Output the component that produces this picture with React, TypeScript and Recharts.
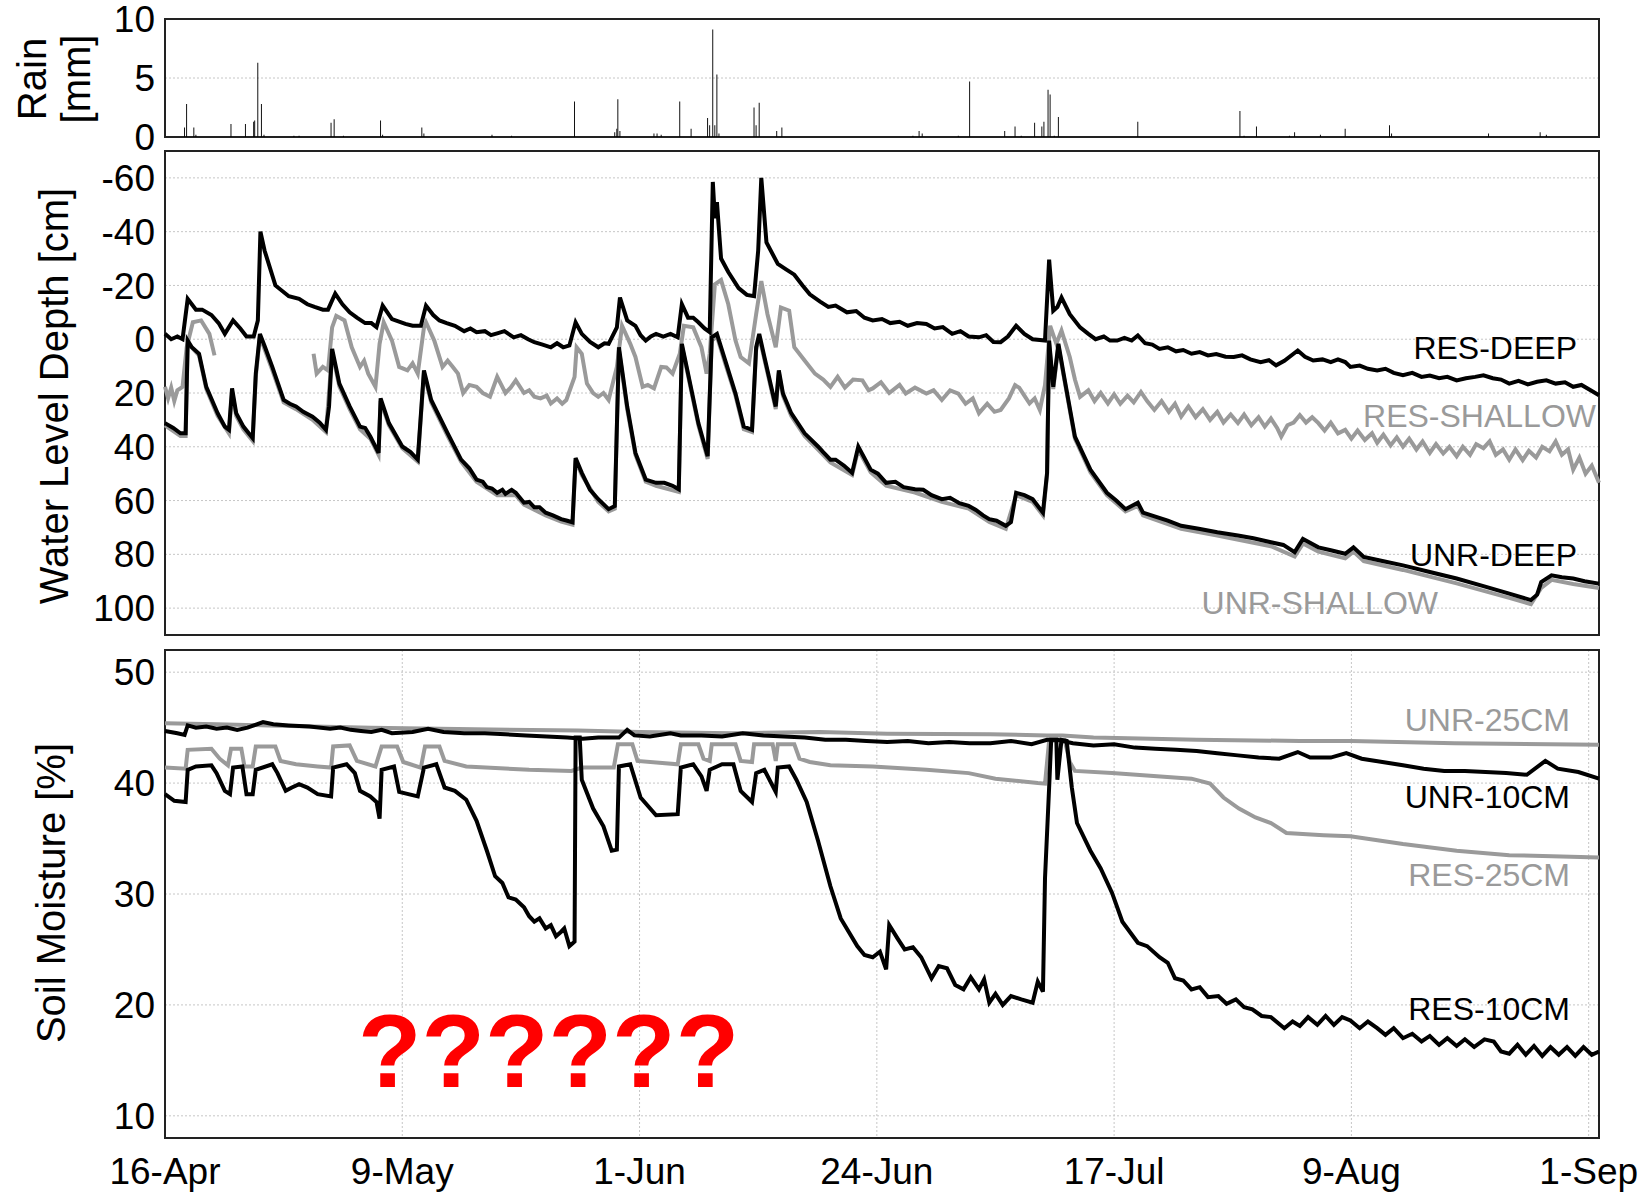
import React from "react";
import {
  Bar,
  CartesianGrid,
  ComposedChart,
  Line,
  LineChart,
  ReferenceArea,
  XAxis,
  YAxis,
} from "recharts";

// day 0 = 16-Apr
const dateTicks = [0, 23, 46, 69, 92, 115, 138];
const dateLabels = ["16-Apr", "9-May", "1-Jun", "24-Jun", "17-Jul", "9-Aug", "1-Sep"];

const rainTicks = [0, 5, 10];
const depthTicks = [-60, -40, -20, 0, 20, 40, 60, 80, 100];
const moistTicks = [10, 20, 30, 40, 50];

// [day, mm]
const rain: [number, number][] = [
  [1.9, 0.8], [2.1, 2.8], [2.8, 0.8], [3.0, 0.2], [6.4, 1.1], [7.8, 1.1], [8.6, 1.3], [8.7, 1.4],
  [9.0, 6.3], [9.35, 2.8], [9.6, 0.2], [12.5, 0.1], [13.0, 0.1], [16.1, 1.2], [16.4, 1.5], [17.3, 0.1],
  [20.9, 1.4], [21.1, 0.2], [24.9, 0.8], [25.1, 0.3], [31.7, 0.2], [33.6, 0.1], [39.7, 3.0], [43.6, 0.4],
  [43.8, 0.7], [43.9, 3.2], [44.1, 0.5], [47.4, 0.3], [47.7, 0.3], [48.1, 0.2], [49.9, 3.0], [51.0, 0.7],
  [52.6, 1.6], [52.8, 1.0], [53.1, 9.1], [53.3, 1.0], [53.5, 5.3], [53.7, 0.3], [57.1, 2.5], [57.3, 1.0],
  [57.6, 2.9], [59.3, 0.5], [59.8, 0.8], [72.5, 0.1], [73.1, 0.5], [73.4, 0.3], [76.9, 0.1], [78.0, 4.7],
  [81.4, 0.5], [82.4, 0.9], [83.0, 0.1], [84.3, 1.2], [85.0, 0.9], [85.2, 1.3], [85.6, 4.0], [85.8, 3.6],
  [86.2, 0.1], [86.6, 1.7], [94.3, 1.3], [104.2, 2.2], [104.6, 0.1], [105.8, 0.9], [109.0, 0.1], [109.5, 0.4],
  [112.0, 0.2], [114.4, 0.7], [118.7, 1.0], [118.9, 0.3], [128.3, 0.3], [133.3, 0.4], [133.9, 0.2],
];

// water level depth [cm], [day, value]
const resDeep: [number, number][] = [
  [0, -2], [0.6, 0], [1.2, -1], [1.7, 0], [2.2, -15], [3.0, -11], [3.6, -11], [4.5, -9], [5.2, -6], [5.8, -2],
  [6.6, -7], [7.3, -4], [7.9, -1], [8.6, -1], [9.0, -7], [9.25, -40], [9.65, -33], [10.7, -20], [12.0, -16],
  [13.0, -15], [13.8, -13], [14.5, -12], [15.3, -11], [15.8, -11], [16.5, -17], [17.2, -13], [17.9, -10],
  [18.6, -8], [19.4, -6], [20.0, -6], [20.5, -4.5], [21.1, -12.5], [22.0, -7.5], [23.3, -5.7], [24.0, -5],
  [24.8, -5], [25.3, -12.5], [26.0, -9], [26.6, -7], [27.3, -6], [28.1, -5], [29.0, -3], [29.6, -4],
  [30.2, -2.6], [31.0, -3], [31.6, -1.5], [32.2, -2.2], [32.9, -3], [33.8, -0.7], [34.5, -1.5], [35.2, 0],
  [35.8, 1.1], [36.6, 2], [37.4, 3], [38.0, 1.5], [38.6, 3], [39.2, 2.3], [39.8, -6.3], [40.4, -2], [41.2, 1],
  [42.0, 3], [42.6, 1.5], [43.0, 1.7], [43.8, -4.4], [44.1, -15.5], [44.8, -7], [45.6, -5], [46.1, -1.5],
  [46.6, 0.5], [47.1, -1], [47.6, -2], [48.3, -1], [49.0, -2], [49.7, -0.7], [50.1, -13], [50.7, -8],
  [51.2, -8], [51.7, -6.3], [52.3, -4], [52.8, -2.6], [53.1, -58.5], [53.3, -45], [53.5, -51], [53.9, -30],
  [54.6, -25], [55.6, -19], [56.4, -16.5], [57.1, -16], [57.5, -33], [57.8, -60], [58.3, -36], [59.4, -28],
  [60.2, -26], [61.0, -24], [61.8, -20], [62.5, -16.7], [63.5, -14], [64.3, -12], [65.0, -12.5], [66.1, -10],
  [67.0, -10.5], [67.8, -8], [68.6, -7], [69.5, -7.5], [70.3, -6], [71.2, -6.5], [72.0, -5], [72.9, -6],
  [73.8, -5.7], [74.6, -4], [75.4, -4.5], [76.3, -2], [77.1, -3], [77.9, -1], [78.9, -0.7], [79.6, -1.5],
  [80.3, 1], [81.0, 1.1], [81.7, -1], [82.5, -5], [83.3, -2], [84.1, 0], [85.3, 0.5], [85.7, -29.6],
  [86.1, -10.6], [86.5, -12], [86.9, -15.5], [87.7, -9.3], [88.7, -4.4], [89.5, -2], [90.2, 0], [91.0, -1],
  [91.6, 0.5], [92.3, 0.5], [93.0, -0.5], [93.7, 0.5], [94.3, -1.4], [95.0, 1.5], [95.7, 2], [96.4, 3.6],
  [97.2, 3], [98.0, 4.5], [98.7, 4], [99.5, 5.4], [100.3, 4.8], [101.1, 6], [101.9, 5.5], [102.8, 6.5],
  [103.6, 6.6], [104.4, 6], [105.2, 7.5], [106.2, 8.5], [107.0, 7.8], [107.7, 9.7], [108.5, 8], [109.8, 4.2],
  [110.5, 6.5], [111.3, 7.9], [112.2, 7.5], [113.0, 8.5], [113.7, 7.5], [114.4, 8.5], [114.9, 10.3],
  [115.8, 9.8], [116.6, 11], [117.5, 11.6], [118.3, 11], [119.1, 12.5], [120.0, 13.4], [120.9, 12.5],
  [121.8, 14], [122.6, 13.5], [123.5, 14.5], [124.3, 14], [125.2, 15.3], [126.1, 14.5], [127.0, 14],
  [127.8, 13.4], [128.7, 14.5], [129.5, 15], [130.3, 16.5], [131.2, 15.5], [132.1, 16.8], [133.0, 15.8],
  [133.9, 15.3], [134.8, 16.5], [135.7, 16], [136.5, 17.7], [137.3, 17], [138.1, 18.8], [139, 20.8],
];

const resShallow: [number, number | null][] = [
  [0, 17.7], [0.3, 22], [0.6, 18], [0.9, 23], [1.2, 19], [1.7, 17.7], [2.1, 3], [2.7, -6.3], [3.5, -7],
  [4.3, -2], [4.8, 6], [9, null], [14.4, 5.4], [14.7, 12.8], [15.3, 10.3], [15.8, 11.6], [16.2, -4.4],
  [16.6, -8.7], [17.4, -7], [18.1, 3], [18.9, 10.3], [19.3, 8], [19.7, 12.8], [20.4, 17.7], [20.8, 1.7],
  [21.2, -6.3], [22.0, 0.5], [22.7, 10.3], [23.5, 11.6], [24.0, 9], [24.5, 12.8], [25.1, -4.4], [25.3, -6.3],
  [26.1, 0.5], [26.9, 10.3], [27.4, 8], [27.9, 10.3], [28.4, 12.8], [28.9, 20], [29.5, 17], [30.2, 17.7],
  [30.8, 20], [31.5, 21.4], [32.2, 14], [32.6, 17], [33.0, 20], [33.5, 18], [34.0, 15.3], [34.8, 20],
  [35.3, 19], [35.8, 21.4], [36.4, 22], [37.0, 21], [37.4, 23.9], [38.0, 22], [38.5, 24], [38.9, 22.6],
  [39.7, 14], [39.9, 3], [40.4, 5.4], [40.9, 16.5], [41.5, 20], [42.0, 21.4], [42.5, 20], [43.0, 22.6],
  [43.8, 10.3], [44.3, -5], [45.1, 1.7], [45.6, 6.6], [46.3, 17.7], [46.8, 17], [47.4, 18.3], [48.1, 10.3],
  [48.6, 10.5], [49.2, 12.8], [49.9, 5.4], [50.3, -5], [51.2, -4.4], [52.0, 3], [52.5, 12.8], [52.8, 5.4],
  [53.3, -20.4], [53.9, -22], [54.6, -13], [55.3, 0.5], [55.8, 6.6], [56.6, 9], [57.3, -9.3], [57.8, -21.6],
  [58.4, -9.3], [59.2, 3], [59.7, -11.8], [60.5, -10.6], [61.0, 3], [62.0, 7.9], [63.0, 12.8], [63.8, 15],
  [64.5, 17.7], [65.2, 14], [65.9, 18], [66.7, 15], [67.6, 15.3], [68.2, 19], [68.6, 18.3], [69.4, 16],
  [70.2, 20], [71.2, 17], [71.8, 20.2], [72.7, 18], [73.8, 20.2], [74.5, 19], [75.3, 22.6], [76.1, 19],
  [76.9, 20.2], [77.6, 24], [78.3, 22], [78.9, 27.5], [79.7, 24], [80.4, 27], [81.0, 26.3], [81.8, 22],
  [82.4, 17.1], [82.8, 18], [83.3, 21], [83.8, 23.9], [84.3, 22], [84.8, 26.3], [85.3, 17.1], [85.8, -5],
  [86.4, 1.7], [86.9, -3.2], [87.7, 6.6], [88.2, 15], [88.7, 21.4], [89.5, 19], [90.1, 23], [90.7, 20],
  [91.4, 23.9], [92.0, 20.5], [92.6, 24], [93.3, 21], [93.9, 23.5], [94.6, 19.6], [95.2, 23], [95.9, 26.3],
  [96.6, 23], [97.3, 27], [97.9, 24], [98.5, 28.8], [99.2, 25], [99.9, 29], [100.6, 26], [101.3, 30],
  [102.0, 27], [102.6, 31], [103.3, 28], [104.0, 31.2], [104.6, 28], [105.3, 32], [106.0, 29], [106.6, 32.5],
  [107.2, 29.5], [107.8, 33], [108.2, 36.2], [108.8, 32], [109.4, 31], [110.0, 28.2], [110.6, 31],
  [111.2, 29], [111.8, 31.2], [112.4, 34], [113.0, 31], [113.7, 35], [114.4, 33.7], [115.0, 37],
  [115.6, 34], [116.3, 37.5], [117.0, 35], [117.5, 38.5], [118.1, 35.5], [118.8, 39.5], [119.4, 36.5],
  [120.0, 39.9], [120.6, 37], [121.3, 41], [121.9, 38], [122.6, 42.3], [123.2, 39], [123.9, 42.5],
  [124.5, 40], [125.2, 43.5], [125.8, 40], [126.5, 43], [127.1, 39], [127.8, 40.5], [128.4, 38], [129.0, 43],
  [129.7, 41], [130.3, 44.8], [130.9, 41], [131.6, 45], [132.2, 41.5], [132.9, 44], [133.5, 40], [134.2, 41.7],
  [134.8, 38], [135.4, 43], [136.0, 41], [136.5, 48.5], [137.1, 44], [137.7, 50], [138.3, 47], [139, 53.4],
];

const unrDeep: [number, number][] = [
  [0, 31.2], [0.8, 33], [1.5, 35], [2.0, 35], [2.2, 0.5], [2.6, 3], [3.3, 5.4], [4.0, 17.7], [5.1, 27.5],
  [5.8, 32.5], [6.2, 33.7], [6.5, 18.3], [6.9, 27.5], [7.6, 32.5], [8.5, 36.8], [8.8, 12.8], [9.2, -2],
  [9.7, 3], [10.4, 10.3], [11.5, 22.6], [12.1, 24], [12.7, 25], [13.4, 27], [14.3, 28.8], [15.0, 31],
  [15.6, 33.7], [15.9, 25], [16.2, 3.6], [16.9, 16.5], [17.9, 25], [18.9, 32.5], [19.4, 33], [19.9, 36.2],
  [20.7, 42.3], [20.9, 22], [21.7, 31.2], [23.0, 39.9], [23.8, 42], [24.5, 44.8], [25.1, 11.6], [25.8, 22.6],
  [27.4, 35], [28.7, 44.8], [29.5, 48], [30.2, 52.2], [30.8, 53], [31.2, 55], [31.7, 55.5], [32.2, 57.1],
  [32.7, 56], [33.0, 57.5], [33.6, 56], [34.0, 57.1], [34.8, 60.8], [35.3, 60.5], [35.8, 62.5], [36.3, 62.5],
  [36.9, 64.5], [37.6, 65.5], [38.4, 66.9], [39.0, 67.5],
  [39.5, 68.1], [39.8, 44.2], [40.4, 49.7], [41.2, 56], [42.0, 59.5], [43.0, 63.2], [43.6, 62], [44.0, 3],
  [44.8, 25], [45.6, 42.3], [46.6, 52.2], [47.6, 53.4], [48.4, 53.4], [49.2, 54.5], [49.8, 55.8], [50.1, 1.7],
  [50.7, 12.8], [51.7, 31.2], [52.6, 43.5], [53.0, -0.7], [53.5, -2], [54.3, 7.9], [55.3, 20.2], [56.1, 32.5],
  [56.9, 33.7], [57.3, 3], [57.6, -2], [58.1, 6.6], [59.2, 25], [59.5, 11.6], [59.9, 20.2], [60.7, 27.5],
  [62.0, 35], [63.3, 39.9], [63.8, 42], [64.5, 44.8], [65.0, 44.8], [65.8, 47], [66.6, 49.7], [67.2, 39.9],
  [68.4, 48.5], [69.1, 50], [69.9, 53.4], [70.8, 53], [71.6, 55], [72.7, 55.8], [73.5, 56], [74.3, 58],
  [75.3, 59.5], [76.1, 59], [77.0, 61], [77.9, 62], [78.6, 63.5], [79.3, 65.5], [79.9, 66.9], [80.6, 67.5],
  [81.5, 69.4], [82.0, 68], [82.5, 57.1], [83.3, 58], [84.1, 59.5], [85.1, 64.5], [85.5, 49.7], [85.7, 0.5],
  [86.1, 17.7], [86.6, 1.7], [87.1, 12.8], [88.2, 36.2], [89.7, 48.5], [91.3, 57.1], [92.2, 60], [93.1, 63.2],
  [94.3, 60.8], [94.8, 64.5], [96.0, 66], [97.2, 67.5], [98.5, 69.4], [100.2, 70.5], [102.0, 71.8],
  [104.0, 73], [105.5, 74], [107.2, 75.5], [108.4, 76.5], [109.5, 79.2], [110.3, 74.3], [111.8, 77.4],
  [113.0, 78.5], [114.4, 79.8], [115.2, 77.4], [116.2, 81], [118.0, 82.5], [120.0, 84.1], [122.5, 86.5],
  [125.2, 89], [127.8, 91.8], [130.3, 94.6], [132.4, 97], [133.0, 95], [133.4, 90.3], [134.4, 87.8],
  [135.4, 88.5], [136.5, 89], [137.6, 90], [139, 90.9],
];

const unrShallow: [number, number][] = [
  [0, 32], [1.5, 36], [2.0, 36], [2.2, 1.5], [3.3, 6], [4.0, 18.5], [5.1, 28.5], [6.2, 35], [6.5, 19.5],
  [6.9, 28.5], [7.6, 33.5], [8.5, 37.8], [8.8, 14], [9.2, -1], [10.4, 11.5], [11.5, 23.5], [12.7, 26],
  [14.3, 30], [15.6, 34.5], [16.2, 5], [16.9, 17.5], [17.9, 26], [18.9, 33.5], [19.9, 37], [20.7, 43],
  [20.9, 23], [21.7, 32], [23.0, 40.5], [24.5, 45.5], [25.1, 12.5], [25.8, 23.5], [27.4, 36], [28.7, 45.5],
  [30.2, 53], [32.2, 58], [34.0, 58], [34.8, 61.5], [36.9, 65.5], [38.4, 67.8], [39.5, 69], [39.8, 45],
  [40.4, 50.5], [42.0, 60.5], [43.0, 64], [43.6, 63], [44.0, 4], [44.8, 26], [45.6, 43], [46.6, 53],
  [47.6, 54.5], [49.8, 56.8], [50.1, 2.5], [50.7, 13.5], [51.7, 32], [52.6, 44.5], [53.0, 0.5], [53.5, -1],
  [54.3, 9], [55.3, 21], [56.1, 33.5], [56.9, 34.5], [57.3, 4], [57.6, -1], [58.1, 7.5], [59.2, 26],
  [59.5, 12.5], [59.9, 21], [60.7, 28.5], [62.0, 36], [63.3, 41], [64.5, 45.8], [66.6, 50.5], [67.2, 41],
  [68.4, 49.5], [69.9, 54.5], [72.7, 57], [75.3, 60.5], [77.9, 63], [79.9, 68], [81.5, 70.5], [82.5, 58],
  [84.1, 60.5], [85.1, 65.5], [85.5, 50.5], [85.7, 1.5], [86.1, 18.5], [86.6, 2.5], [87.1, 13.5], [88.2, 37],
  [89.7, 49.5], [91.3, 58], [93.1, 64], [94.3, 62], [94.8, 65.5], [98.5, 70.5], [102.0, 73], [107.2, 77],
  [109.5, 80.8], [110.3, 76], [111.8, 79], [114.4, 81.5], [115.2, 79], [116.2, 82.5], [120.0, 85.8],
  [125.2, 90.8], [130.3, 96.2], [132.4, 98.5], [133.4, 92.5], [134.4, 89.5], [136.5, 91], [139, 92.5],
];

// soil moisture [%], [day, value]
const unr25: [number, number][] = [
  [0, 45.4], [5, 45.3], [10, 45.2], [20, 45.0], [30, 44.85], [40, 44.75], [46, 44.6], [55, 44.5],
  [63.5, 44.6], [70, 44.45], [80, 44.4], [85.5, 44.3], [87, 44.3], [90, 44.1], [100, 43.9], [110, 43.8],
  [115, 43.8], [125, 43.6], [139, 43.45],
];

const unr10: [number, number][] = [
  [0, 44.7], [1.2, 44.5], [1.9, 44.35], [2.2, 45.2], [3, 45], [4, 45.1], [5, 44.9], [6, 45], [7, 44.8],
  [8, 45], [9.5, 45.5], [10.5, 45.3], [12, 45.2], [14, 45.1], [16, 44.9], [17, 45], [18, 44.8], [19, 44.7],
  [20, 44.6], [21, 44.8], [22, 44.5], [24, 44.6], [25.5, 44.9], [27, 44.6], [29, 44.5], [31, 44.5],
  [33, 44.4], [35, 44.3], [37, 44.2], [39, 44.1], [40.5, 44], [42, 44.1], [44, 44.1], [44.8, 44.8],
  [45.5, 44.3], [47, 44.2], [49, 44.5], [50, 44.3], [52, 44.3], [54, 44.2], [56, 44.5], [58, 44.3],
  [60, 44.2], [62, 44.1], [64, 43.9], [66, 43.9], [68, 43.8], [70, 43.7], [72, 43.8], [74, 43.6],
  [76, 43.7], [78, 43.6], [80, 43.6], [82, 43.8], [84, 43.5], [85.5, 43.9], [86.5, 43.9], [88, 43.6],
  [90, 43.4], [92, 43.5], [94, 43.2], [96, 43.1], [98, 43], [100, 42.9], [102, 42.7], [104, 42.5],
  [106, 42.3], [108, 42.2], [109.8, 42.8], [111, 42.3], [113, 42.3], [114.5, 42.7], [116, 42.2],
  [118, 41.9], [120, 41.6], [122, 41.3], [124, 41.1], [126, 41.1], [128, 41], [130, 40.9], [132, 40.75],
  [133.8, 42.0], [135, 41.3], [137, 41.0], [139, 40.4],
];

const res25: [number, number][] = [
  [0, 41.4], [2.0, 41.3], [2.2, 43], [4.5, 43.1], [5.3, 42.2], [6.1, 41.6], [6.4, 43.1], [7.4, 43.1],
  [7.7, 41.5], [8.5, 41.5], [8.8, 43.3], [10.7, 43.3], [11.2, 42.0], [12.7, 41.7], [14.8, 41.5], [16.1, 41.4],
  [16.3, 43.3], [17.9, 43.4], [18.6, 42.0], [20.4, 41.5], [21.0, 43.3], [22.5, 43.3], [23.1, 41.9],
  [24.8, 41.4], [25.2, 43.3], [26.6, 43.3], [27.1, 42.0], [29.2, 41.5], [35.3, 41.2], [39.4, 41.1],
  [40.4, 41.4], [43.5, 41.4], [43.9, 43.5], [45.3, 43.5], [45.8, 42.0], [49.7, 41.7], [50.0, 43.5],
  [51.7, 43.5], [52.2, 42.2], [52.8, 42.0], [53.0, 43.5], [55.3, 43.5], [55.8, 42.0], [56.9, 41.9],
  [57.1, 43.5], [58.9, 43.5], [59.2, 42.0], [59.4, 43.5], [61.0, 43.5], [61.5, 42.2], [62.5, 41.9],
  [64.5, 41.6], [68.6, 41.5], [73.8, 41.2], [77.9, 40.9], [80.5, 40.4], [84.6, 40.0], [85.3, 39.95],
  [85.7, 43.8], [87.2, 43.9], [87.7, 41.9], [88.2, 41.1], [91.8, 40.9], [99.5, 40.4], [101.3, 39.95],
  [102.6, 38.7], [104.1, 37.7], [105.7, 36.9], [107.2, 36.4], [108.7, 35.5], [112.3, 35.3], [114.9, 35.2],
  [120.0, 34.5], [125.2, 33.9], [130.3, 33.5], [139, 33.3],
];

const res10: [number, number][] = [
  [0, 39.0], [0.9, 38.4], [2.0, 38.3], [2.2, 41.2], [3.0, 41.5], [4.5, 41.6], [5.0, 40.9], [5.8, 39.3],
  [6.3, 39.0], [6.6, 41.4], [7.5, 41.5], [7.9, 39.0], [8.5, 39.0], [8.8, 41.2], [10.4, 41.7], [10.9, 40.9],
  [11.7, 39.3], [12.3, 39.6], [13.0, 39.9], [13.8, 39.6], [14.8, 39.0], [16.1, 38.8], [16.3, 41.4],
  [17.6, 41.7], [18.4, 40.9], [18.9, 39.3], [19.9, 38.8], [20.5, 38.3], [20.8, 36.8], [21.0, 41.2],
  [22.2, 41.5], [22.7, 39.2], [24.5, 38.8], [25.1, 41.4], [26.3, 41.7], [27.1, 39.6], [28.1, 39.3],
  [29.2, 38.5], [30.2, 36.6], [31.2, 33.9], [32.0, 31.6], [32.7, 31.0], [33.3, 29.7], [34.0, 29.5],
  [34.8, 28.8], [35.3, 28.0], [35.8, 27.5], [36.3, 27.8], [36.9, 26.9], [37.4, 27.2], [37.9, 26.2],
  [38.4, 26.6], [38.7, 26.9], [39.2, 25.3], [39.7, 25.7], [39.8, 44.1], [40.2, 44.1], [40.4, 40.3],
  [41.5, 37.7], [42.5, 36.1], [43.3, 33.9], [43.8, 34.0], [44.0, 41.5], [45.1, 41.7], [46.1, 38.7],
  [47.6, 37.1], [49.7, 37.2], [50.0, 41.4], [51.2, 41.7], [52.0, 40.6], [52.5, 39.3], [52.8, 41.2],
  [54.0, 41.7], [55.1, 41.7], [55.8, 39.3], [56.9, 38.3], [57.3, 40.9], [58.1, 41.2], [59.2, 39.2],
  [59.4, 41.4], [60.5, 41.5], [61.2, 40.3], [62.2, 38.3], [63.3, 34.8], [64.5, 30.7], [65.5, 27.8],
  [67.1, 25.3], [67.8, 24.5], [68.6, 24.3], [69.3, 24.8], [69.9, 23.2], [70.2, 27.2], [71.0, 26.0],
  [71.7, 25.0], [72.5, 25.2], [73.3, 24.3], [74.3, 22.4], [75.0, 23.5], [75.8, 23.3], [76.6, 21.8],
  [77.4, 21.4], [78.1, 22.5], [78.9, 21.4], [79.4, 22.3], [79.9, 20.2], [80.5, 21.0], [81.2, 20.0],
  [82.0, 20.8], [83.0, 20.5], [84.1, 20.2], [84.6, 22.1], [85.1, 21.2], [85.3, 31.4], [85.7, 39.6],
  [85.9, 43.9], [86.4, 43.9], [86.5, 40.3], [86.9, 43.9], [87.4, 43.8], [87.9, 39.6], [88.4, 36.4],
  [89.7, 33.9], [90.7, 32.3], [91.8, 30.1], [92.8, 27.5], [94.3, 25.6], [95.2, 25.3], [96.4, 24.3],
  [97.2, 23.8], [97.9, 22.4], [98.7, 22.2], [99.5, 21.4], [100.3, 21.6], [101.1, 20.7], [102.1, 20.8],
  [102.9, 20.1], [103.8, 20.5], [104.6, 19.8], [105.4, 19.6], [106.3, 19.0], [107.2, 18.9], [108.5, 17.9],
  [109.3, 18.5], [110.0, 18.1], [110.8, 18.9], [111.7, 18.2], [112.5, 19.0], [113.3, 18.2], [114.1, 18.9],
  [114.9, 18.6], [115.8, 17.9], [116.6, 18.5], [117.5, 17.9], [118.3, 17.3], [119.1, 17.9], [120.0, 17.0],
  [120.9, 17.4], [121.8, 16.7], [122.6, 17.2], [123.5, 16.4], [124.3, 17.0], [125.2, 16.3], [126.0, 16.9],
  [126.9, 16.2], [127.9, 16.9], [128.8, 16.7], [129.5, 15.8], [130.3, 15.6], [131.1, 16.4], [131.9, 15.5],
  [132.7, 16.3], [133.5, 15.4], [134.3, 16.2], [135.1, 15.5], [135.9, 16.2], [136.7, 15.4], [137.5, 16.2],
  [138.3, 15.5], [139, 15.8],
];

const BLACK = "#000000";
const GREY = "#9a9a9a";
const FONT = "'Liberation Sans', Arial, Helvetica, sans-serif";
const tickStyle = { fontSize: 37, fill: "#000", fontFamily: FONT };

const pts = (arr: [number, number | null][]) => arr.map(([d, v]) => ({ d, v }));

function Frame({ y1, y2 }: { y1: number; y2: number }) {
  return (
    <ReferenceArea
      x1={0}
      x2={139}
      y1={y1}
      y2={y2}
      fill="none"
      stroke="#222"
      strokeWidth={2}
      ifOverflow="visible"
    />
  );
}

function HiddenX() {
  return (
    <XAxis
      type="number"
      dataKey="d"
      domain={[0, 139]}
      ticks={dateTicks}
      tick={false}
      tickLine={false}
      axisLine={false}
      height={0}
    />
  );
}

const grid = <CartesianGrid stroke="#c6c6c6" strokeDasharray="2 2" />;

function SeriesLine({ data, color }: { data: [number, number | null][]; color: string }) {
  return (
    <Line
      data={pts(data)}
      dataKey="v"
      type="linear"
      stroke={color}
      strokeWidth={4}
      dot={false}
      activeDot={false}
      isAnimationActive={false}
    />
  );
}

const labelBox = (right: number, y: number, color: string): React.CSSProperties => ({
  position: "absolute",
  right: 1652 - right,
  top: y - 18,
  lineHeight: "36px",
  fontSize: 32,
  color,
  whiteSpace: "nowrap",
});

export default function App() {
  const rainData = rain.map(([d, mm]) => ({ d, mm }));
  return (
    <div
      style={{
        position: "absolute",
        left: 0,
        top: 0,
        width: 1652,
        height: 1194,
        background: "#fff",
        fontFamily: FONT,
        overflow: "hidden",
      }}
    >
      {/* rain */}
      <div style={{ position: "absolute", left: 0, top: 0 }}>
        <ComposedChart width={1652} height={160} data={rainData} margin={{ top: 19, right: 53, bottom: 23, left: 0 }}>
          {grid}
          <HiddenX />
          <YAxis
            type="number"
            domain={[0, 10]}
            ticks={rainTicks}
            interval={0}
            width={165}
            tick={tickStyle}
            tickLine={false}
            tickSize={0}
            tickMargin={10}
            axisLine={false}
          />
          <Bar dataKey="mm" fill={BLACK} barSize={3} isAnimationActive={false} />
          <Frame y1={0} y2={10} />
        </ComposedChart>
      </div>

      {/* water level */}
      <div style={{ position: "absolute", left: 0, top: 140 }}>
        <LineChart width={1652} height={510} margin={{ top: 11, right: 53, bottom: 15, left: 0 }}>
          {grid}
          <HiddenX />
          <YAxis
            type="number"
            domain={[-70, 110]}
            reversed
            ticks={depthTicks}
            interval={0}
            width={165}
            tick={tickStyle}
            tickLine={false}
            tickSize={0}
            tickMargin={10}
            axisLine={false}
          />
          <SeriesLine data={unrShallow} color={GREY} />
          <SeriesLine data={resShallow} color={GREY} />
          <SeriesLine data={unrDeep} color={BLACK} />
          <SeriesLine data={resDeep} color={BLACK} />
          <Frame y1={-70} y2={110} />
        </LineChart>
      </div>

      {/* soil moisture */}
      <div style={{ position: "absolute", left: 0, top: 640 }}>
        <LineChart width={1652} height={554} margin={{ top: 10, right: 53, bottom: 6, left: 0 }}>
          {grid}
          <XAxis
            type="number"
            dataKey="d"
            domain={[0, 139]}
            ticks={dateTicks}
            tickFormatter={(_v: number, i: number) => dateLabels[i]}
            tick={tickStyle}
            tickLine={false}
            tickSize={0}
            tickMargin={20}
            axisLine={false}
            height={50}
            interval={0}
          />
          <YAxis
            type="number"
            domain={[8, 52]}
            ticks={moistTicks}
            interval={0}
            width={165}
            tick={tickStyle}
            tickLine={false}
            tickSize={0}
            tickMargin={10}
            axisLine={false}
          />
          <SeriesLine data={unr25} color={GREY} />
          <SeriesLine data={res25} color={GREY} />
          <SeriesLine data={unr10} color={BLACK} />
          <SeriesLine data={res10} color={BLACK} />
          <Frame y1={8} y2={52} />
        </LineChart>
      </div>

      {/* axis titles */}
      <div
        style={{
          position: "absolute",
          left: 54,
          top: 79,
          transform: "translate(-50%, -50%) rotate(-90deg)",
          fontSize: 40,
          lineHeight: "44px",
          textAlign: "center",
          whiteSpace: "nowrap",
        }}
      >
        Rain
        <br />
        [mm]
      </div>
      <div
        style={{
          position: "absolute",
          left: 54,
          top: 396,
          transform: "translate(-50%, -50%) rotate(-90deg)",
          fontSize: 40,
          whiteSpace: "nowrap",
        }}
      >
        Water Level Depth [cm]
      </div>
      <div
        style={{
          position: "absolute",
          left: 51,
          top: 893,
          transform: "translate(-50%, -50%) rotate(-90deg)",
          fontSize: 40,
          whiteSpace: "nowrap",
        }}
      >
        Soil Moisture [%]
      </div>

      {/* series labels */}
      <div style={labelBox(1577, 348, BLACK)}>RES-DEEP</div>
      <div style={labelBox(1596, 416, GREY)}>RES-SHALLOW</div>
      <div style={labelBox(1577, 555, BLACK)}>UNR-DEEP</div>
      <div style={labelBox(1438, 603, GREY)}>UNR-SHALLOW</div>
      <div style={labelBox(1570, 720, GREY)}>UNR-25CM</div>
      <div style={labelBox(1570, 797, BLACK)}>UNR-10CM</div>
      <div style={labelBox(1570, 875, GREY)}>RES-25CM</div>
      <div style={labelBox(1570, 1009, BLACK)}>RES-10CM</div>

      <div
        style={{
          position: "absolute",
          left: 358,
          top: 999,
          fontSize: 104,
          lineHeight: "104px",
          fontWeight: "bold",
          color: "#ff0000",
          whiteSpace: "nowrap",
        }}
      >
        ??????
      </div>
    </div>
  );
}
